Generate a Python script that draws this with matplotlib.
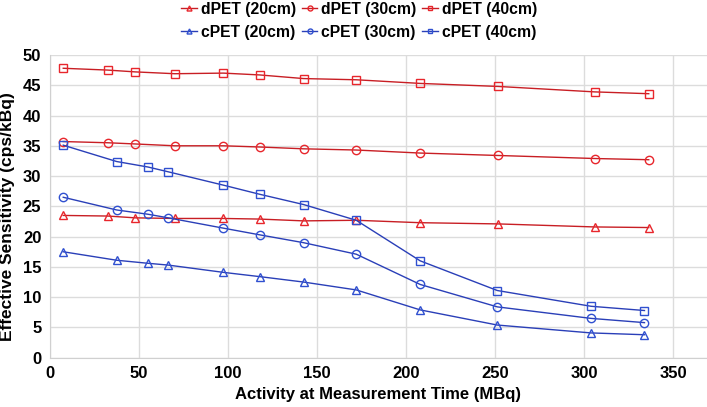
import matplotlib
matplotlib.use("Agg")
import matplotlib.pyplot as plt

plt.rcParams['font.family'] = ['Liberation Sans', 'DejaVu Sans']

# Data
d_activity = [7.6, 32.6, 48.1, 70.2, 97.5, 117.8, 142.5, 172.1, 208.0, 251.7, 305.9, 336.3]
c_activity = [7.6, 37.6, 55.1, 66.6, 97.5, 117.8, 142.5, 172.1, 208.0, 251.3, 303.9, 333.9]

dpet_20 = [23.5, 23.4, 23.1, 23.0, 23.0, 22.9, 22.6, 22.7, 22.3, 22.1, 21.6, 21.5]
dpet_30 = [35.7, 35.5, 35.3, 35.0, 35.0, 34.8, 34.5, 34.3, 33.8, 33.4, 32.9, 32.7]
dpet_40 = [47.8, 47.5, 47.2, 46.9, 47.0, 46.7, 46.1, 45.9, 45.3, 44.8, 43.9, 43.6]

cpet_20 = [17.5, 16.1, 15.6, 15.3, 14.1, 13.4, 12.5, 11.2, 7.9, 5.4, 4.1, 3.8]
cpet_30 = [26.5, 24.4, 23.7, 23.1, 21.4, 20.3, 19.0, 17.1, 12.1, 8.4, 6.5, 5.8]
cpet_40 = [35.1, 32.4, 31.5, 30.7, 28.5, 27.0, 25.3, 22.7, 16.0, 11.1, 8.5, 7.8]

x_ticks = [0, 50, 100, 150, 200, 250, 300, 350]
y_ticks = [0, 5, 10, 15, 20, 25, 30, 35, 40, 45, 50]

fig = plt.figure(figsize=(7.07, 4.07), dpi=100)
ax = fig.add_axes([0.0703, 0.121, 0.9297, 0.744])

red_line = '#c81e24'
red_mk = '#e8262c'
blue_line = '#2a3fb8'
blue_mk = '#3050d0'

series = [
    (d_activity, dpet_20, 'dPET (20cm)', '^', red_line, red_mk),
    (c_activity, cpet_20, 'cPET (20cm)', '^', blue_line, blue_mk),
    (d_activity, dpet_30, 'dPET (30cm)', 'o', red_line, red_mk),
    (c_activity, cpet_30, 'cPET (30cm)', 'o', blue_line, blue_mk),
    (d_activity, dpet_40, 'dPET (40cm)', 's', red_line, red_mk),
    (c_activity, cpet_40, 'cPET (40cm)', 's', blue_line, blue_mk),
]
handles = []
for xs, ys, lab, mk, lc, mc in series:
    h, = ax.plot(xs, ys, color=lc, lw=1.0, marker=mk, markersize=6,
                 markerfacecolor='none', markeredgecolor=mc, markeredgewidth=1.0,
                 label=lab, zorder=3)
    handles.append(h)

ax.set_xlim(0, 369)
ax.set_ylim(0, 50)
ax.set_xticks(x_ticks)
ax.set_yticks(y_ticks)
ax.grid(True, color='#dcdcdc', lw=1.0)
ax.set_axisbelow(True)
for s in ['top', 'right']:
    ax.spines[s].set_visible(False)
for s in ['left', 'bottom']:
    ax.spines[s].set_color('#d0d0d0')
ax.tick_params(length=0, labelsize=12, pad=6)
for lbl in ax.get_xticklabels() + ax.get_yticklabels():
    lbl.set_fontweight('bold')

ax.set_xlabel('Activity at Measurement Time (MBq)', fontsize=12, fontweight='bold', labelpad=4)
ax.set_ylabel('Effective Sensitivity (cps/kBq)', fontsize=12.5, fontweight='bold')
ax.yaxis.set_label_coords(-0.053, 0.465)

fig.legend(handles=handles, loc='upper center', bbox_to_anchor=(0.508, 1.03), ncol=3,
           frameon=False, prop={'weight': 'bold', 'size': 11.3},
           handlelength=1.0, handletextpad=0.25, columnspacing=0.35, labelspacing=0.5,
           markerscale=0.6)

fig.savefig('out.png', dpi=100)
